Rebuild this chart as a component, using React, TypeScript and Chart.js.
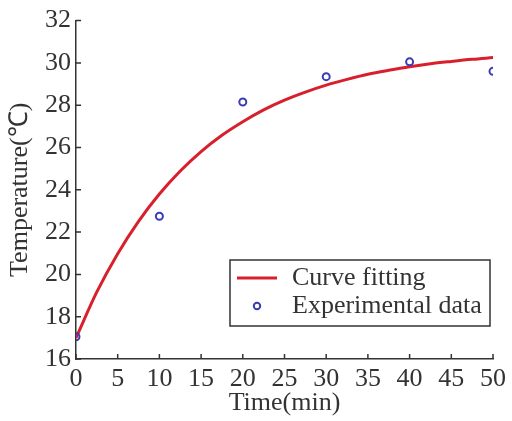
import React, { useEffect, useRef } from "react";
import { Chart, registerables } from "chart.js";

Chart.register(...registerables);

const fitTimes = [0, 2.5, 5, 7.5, 10, 12.5, 15, 17.5, 20, 22.5, 25, 27.5, 30, 32.5, 35, 37.5, 40, 42.5, 45, 47.5, 50];
const fitTemps = [17.0, 19.17, 20.98, 22.51, 23.8, 24.89, 25.81, 26.58, 27.22, 27.78, 28.24, 28.62, 28.95, 29.22, 29.46, 29.65, 29.82, 29.96, 30.07, 30.17, 30.25];
const expTimes = [0, 10, 20, 30, 40, 50];
const expTemps = [17.05, 22.75, 28.15, 29.35, 30.05, 29.6];
const seriesNames = ["Curve fitting", "Experimental data"];
const xTitle = "Time(min)";
const yTitle = "Temperature(\u2103)";

const FONT = "'Liberation Serif', 'Times New Roman', serif";
const FS = 26;
const RED = "#d8202c";
const BLUE = "#3c3cb4";
const AXIS = "#333333";

const innerTicks = {
  id: "innerTicks",
  afterDraw(chart: any) {
    const ctx = chart.ctx;
    const { left, bottom } = chart.chartArea;
    const xs = chart.scales.x;
    const ys = chart.scales.y;
    ctx.save();
    ctx.strokeStyle = AXIS;
    ctx.lineWidth = 1.5;
    ctx.beginPath();
    xs.ticks.forEach((t: any) => {
      const px = xs.getPixelForValue(t.value);
      ctx.moveTo(px, bottom);
      ctx.lineTo(px, bottom - 5);
    });
    ys.ticks.forEach((t: any) => {
      const py = ys.getPixelForValue(t.value);
      ctx.moveTo(left, py);
      ctx.lineTo(left + 5, py);
    });
    ctx.stroke();
    ctx.restore();
  },
};

const boxLegend = {
  id: "boxLegend",
  afterDraw(chart: any) {
    const ctx = chart.ctx;
    const { right, bottom } = chart.chartArea;
    const bx1 = right - 3;
    const by2 = bottom - 33;
    const bx0 = bx1 - 260;
    const by0 = by2 - 66;
    ctx.save();
    ctx.fillStyle = "#ffffff";
    ctx.fillRect(bx0, by0, bx1 - bx0, by2 - by0);
    ctx.strokeStyle = AXIS;
    ctx.lineWidth = 1.5;
    ctx.strokeRect(bx0, by0, bx1 - bx0, by2 - by0);
    const row1 = by0 + 18;
    const row2 = by0 + 46;
    ctx.strokeStyle = RED;
    ctx.lineWidth = 3;
    ctx.beginPath();
    ctx.moveTo(bx0 + 7, row1);
    ctx.lineTo(bx0 + 47, row1);
    ctx.stroke();
    ctx.strokeStyle = BLUE;
    ctx.lineWidth = 2;
    ctx.beginPath();
    ctx.arc(bx0 + 27, row2, 3.2, 0, Math.PI * 2);
    ctx.stroke();
    ctx.fillStyle = "#333333";
    ctx.font = `${FS}px ${FONT}`;
    ctx.textAlign = "left";
    ctx.textBaseline = "middle";
    ctx.fillText(seriesNames[0], bx0 + 62, row1);
    ctx.fillText(seriesNames[1], bx0 + 62, row2);
    ctx.restore();
  },
};

export default function App() {
  const ref = useRef<HTMLCanvasElement>(null);
  useEffect(() => {
    document.body.style.margin = "0";
    const chart = new Chart(ref.current!, {
      type: "scatter",
      data: {
        datasets: [
          {
            label: seriesNames[0],
            data: fitTimes.map((t, i) => ({ x: t, y: fitTemps[i] })),
            showLine: true,
            borderColor: RED,
            borderWidth: 3,
            pointRadius: 0,
            cubicInterpolationMode: "monotone",
            order: 2,
          },
          {
            label: seriesNames[1],
            data: expTimes.map((t, i) => ({ x: t, y: expTemps[i] })),
            showLine: false,
            pointStyle: "circle",
            pointRadius: 3.5,
            borderColor: BLUE,
            backgroundColor: "rgba(0,0,0,0)",
            borderWidth: 2,
            order: 1,
          },
        ],
      },
      options: {
        animation: false,
        responsive: false,
        maintainAspectRatio: false,
        layout: { padding: { top: 19, right: 19, left: 0, bottom: 0 } },
        plugins: { legend: { display: false }, tooltip: { enabled: false } },
        scales: {
          x: {
            type: "linear",
            min: 0,
            max: 50,
            ticks: { stepSize: 5, color: "#333", font: { family: FONT, size: FS }, padding: 5, maxRotation: 0, autoSkip: false },
            grid: { display: true, drawOnChartArea: false, drawTicks: false },
            border: { display: true, color: AXIS, width: 1.5 },
            title: { display: true, text: xTitle, color: "#333", font: { family: FONT, size: FS }, padding: { top: 0, bottom: 2 } },
            afterFit(scale: any) { scale.height = 62; },
          },
          y: {
            type: "linear",
            min: 16,
            max: 32,
            ticks: { stepSize: 2, color: "#333", font: { family: FONT, size: FS }, padding: 5 },
            grid: { display: true, drawOnChartArea: false, drawTicks: false },
            border: { display: true, color: AXIS, width: 1.5 },
            title: { display: true, text: yTitle, color: "#333", font: { family: FONT, size: FS }, padding: { top: 5, bottom: 0 } },
            afterFit(scale: any) { scale.width = 76; },
          },
        },
      },
      plugins: [innerTicks, boxLegend],
    } as any);
    return () => chart.destroy();
  }, []);
  return (
    <div style={{ width: 512, height: 421 }}>
      <canvas ref={ref} width={512} height={421} />
    </div>
  );
}
